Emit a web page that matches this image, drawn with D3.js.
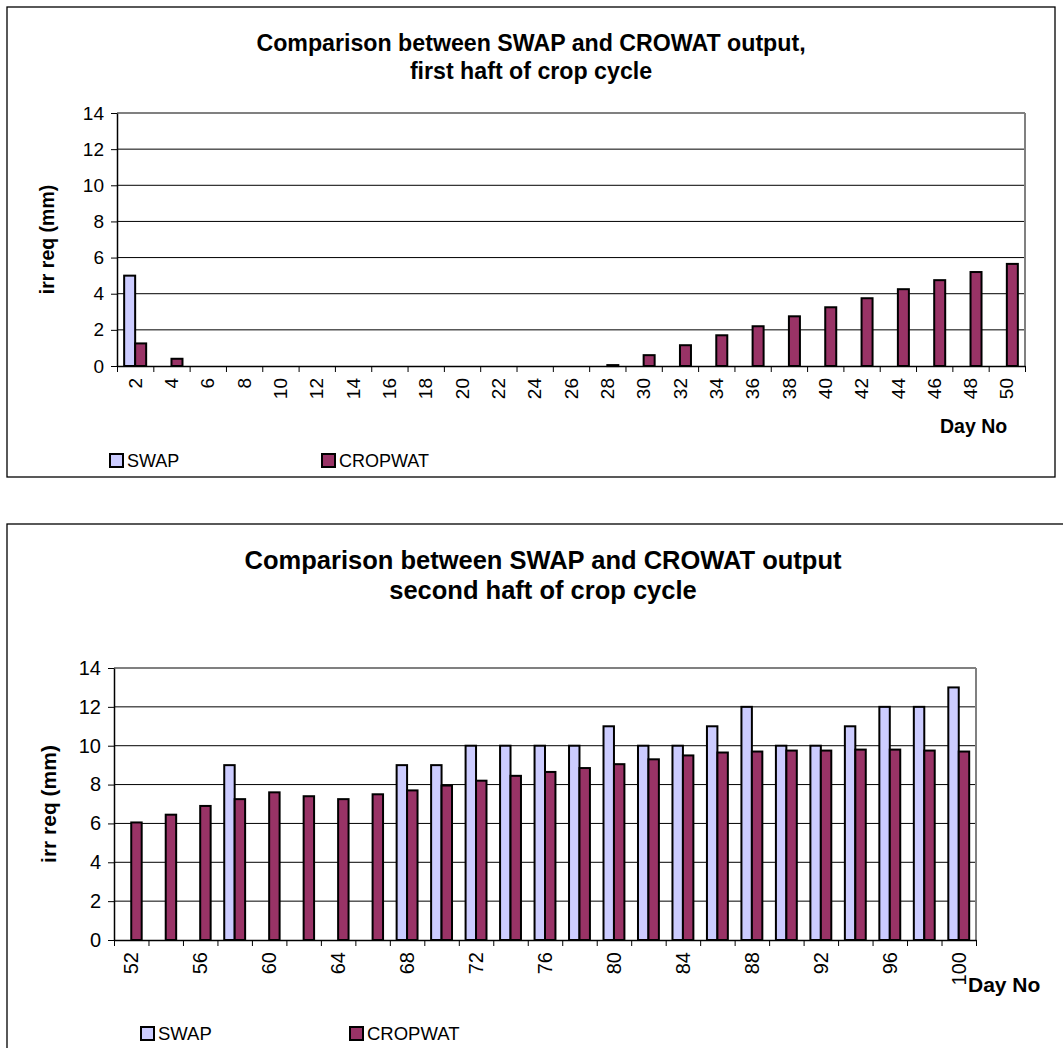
<!DOCTYPE html>
<html>
<head>
<meta charset="utf-8">
<script src="https://cdn.jsdelivr.net/npm/d3@7"></script>
<style>
  body { margin: 0; background: #fff; }
  svg text { font-family: Arial, "Liberation Sans", sans-serif; fill: #000; }
</style>
</head>
<body>
<svg id="chart" width="1063" height="1048"></svg>
<script>
// first half of the crop cycle
const daysA = [2, 4, 6, 8, 10, 12, 14, 16, 18, 20, 22, 24, 26, 28, 30, 32, 34, 36, 38, 40, 42, 44, 46, 48, 50];
const swapA = [5, null, null, null, null, null, null, null, null, null, null, null, null,
  null, null, null, null, null, null, null, null, null, null, null, null];
const cropwatA = [1.25, 0.4, null, null, null, null, null, null, null, null, null, null, null,
  0.05, 0.6, 1.15, 1.7, 2.2, 2.75, 3.25, 3.75, 4.25, 4.75, 5.2, 5.65];
const labelsA = daysA;

// second half of the crop cycle
const daysB = [52, 54, 56, 58, 60, 62, 64, 66, 68, 70, 72, 74, 76, 78, 80, 82, 84, 86, 88, 90, 92, 94, 96, 98, 100];
const swapB = [null, null, null, 9, null, null, null, null, 9, 9, 10, 10, 10, 10, 11, 10, 10, 11, 12, 10, 10, 11, 12, 12, 13];
const cropwatB = [6.05, 6.45, 6.9, 7.25, 7.6, 7.4, 7.25, 7.5, 7.7, 7.95, 8.2, 8.45, 8.65, 8.85, 9.05, 9.3, 9.5, 9.65, 9.7, 9.75, 9.75, 9.8, 9.8, 9.75, 9.7];
const labelsB = [52, 56, 60, 64, 68, 72, 76, 80, 84, 88, 92, 96, 100];

const yTicks = [0, 2, 4, 6, 8, 10, 12, 14];
const seriesNames = ["SWAP", "CROPWAT"];
const colors = { SWAP: "#ccccff", CROPWAT: "#993366" };

const svg = d3.select("#chart");

function drawChart(cfg) {
  const g = svg.append("g");

  // outer frame
  g.append("rect")
    .attr("x", cfg.box[0]).attr("y", cfg.box[1])
    .attr("width", cfg.box[2]).attr("height", cfg.box[3])
    .attr("fill", "#fff").attr("stroke", "#000").attr("stroke-width", 1.3);

  // title, two lines
  g.selectAll(".title")
    .data(cfg.title)
    .enter().append("text")
    .attr("x", cfg.titleX)
    .attr("y", (d, i) => cfg.titleY + i * cfg.titleGap)
    .attr("text-anchor", "middle")
    .style("font-size", cfg.titleSize + "px")
    .style("font-weight", "bold")
    .text(d => d);

  const x = d3.scaleBand().domain(cfg.days).range([cfg.left, cfg.right]);
  const xs = d3.scaleBand().domain(seriesNames).range([0, x.bandwidth()]).paddingOuter(0.65);
  const y = d3.scaleLinear().domain([0, 14]).range([cfg.bottom, cfg.top]);

  // gridlines
  g.selectAll(".grid")
    .data(yTicks.slice(1))
    .enter().append("line")
    .attr("x1", cfg.left).attr("x2", cfg.right)
    .attr("y1", d => y(d)).attr("y2", d => y(d))
    .attr("stroke", d => d === 14 ? "#808080" : "#000")
    .attr("stroke-width", d => d === 14 ? 2 : 1);

  // right border of plot area
  g.append("line")
    .attr("x1", cfg.right).attr("x2", cfg.right)
    .attr("y1", cfg.top).attr("y2", cfg.bottom)
    .attr("stroke", "#808080").attr("stroke-width", 2);

  // bars
  const rows = cfg.days.map((d, i) => ({ day: d, SWAP: cfg.swap[i], CROPWAT: cfg.cropwat[i] }));
  seriesNames.forEach(s => {
    g.selectAll(".bar" + s)
      .data(rows.filter(r => r[s] != null))
      .enter().append("rect")
      .attr("x", r => x(r.day) + xs(s))
      .attr("y", r => y(r[s]))
      .attr("width", xs.bandwidth())
      .attr("height", r => Math.max(y(0) - y(r[s]), 1))
      .attr("fill", colors[s])
      .attr("stroke", "#000")
      .attr("stroke-width", 2);
  });

  // y axis
  const yAxis = g.append("g")
    .attr("transform", `translate(${cfg.left},0)`)
    .call(d3.axisLeft(y).tickValues(yTicks).tickSize(6).tickPadding(7).tickSizeOuter(0));
  yAxis.select(".domain").attr("stroke", "#000").attr("stroke-width", 1.5);
  yAxis.selectAll(".tick line").attr("stroke", "#000");
  yAxis.selectAll(".tick text").style("font-size", cfg.tickSize + "px").style("font-family", "Arial, 'Liberation Sans', sans-serif");

  // x axis: tick marks on category boundaries
  const xb = d3.scaleLinear().domain([0, cfg.days.length]).range([cfg.left, cfg.right]);
  const xTickAxis = g.append("g")
    .attr("transform", `translate(0,${cfg.bottom})`)
    .call(d3.axisBottom(xb).tickValues(d3.range(cfg.days.length + 1)).tickSize(6).tickSizeOuter(0).tickFormat(""));
  xTickAxis.select(".domain").attr("stroke", "#000").attr("stroke-width", 1.5);
  xTickAxis.selectAll(".tick line").attr("stroke", "#000");

  // x labels, rotated
  const xLab = g.append("g")
    .attr("transform", `translate(0,${cfg.bottom})`)
    .call(d3.axisBottom(x).tickValues(cfg.labels).tickSize(0).tickPadding(0));
  xLab.select(".domain").remove();
  xLab.selectAll(".tick text")
    .attr("transform", "rotate(-90)")
    .attr("x", -cfg.labelPad)
    .attr("y", 0)
    .attr("dy", "0.35em")
    .attr("text-anchor", "end")
    .style("font-size", cfg.tickSize + "px")
    .style("font-family", "Arial, 'Liberation Sans', sans-serif");

  // axis titles
  g.append("text")
    .attr("transform", `translate(${cfg.yTitleX},${(cfg.top + cfg.bottom) / 2}) rotate(-90)`)
    .attr("text-anchor", "middle")
    .style("font-size", cfg.axisTitleSize + "px")
    .style("font-weight", "bold")
    .text("irr req (mm)");

  g.append("text")
    .attr("x", cfg.xTitle[0]).attr("y", cfg.xTitle[1])
    .style("font-size", cfg.axisTitleSize + "px")
    .style("font-weight", "bold")
    .text("Day No");

  // legend
  const leg = g.selectAll(".legend")
    .data(seriesNames)
    .enter().append("g")
    .attr("transform", (d, i) => `translate(${cfg.legendX[i]},${cfg.legendY})`);
  leg.append("rect")
    .attr("x", 0).attr("y", -7).attr("width", 13).attr("height", 13)
    .attr("fill", d => colors[d]).attr("stroke", "#000").attr("stroke-width", 2);
  leg.append("text")
    .attr("x", 17).attr("y", 0).attr("dy", "0.35em")
    .style("font-size", cfg.legendSize + "px")
    .text(d => d);
}

drawChart({
  box: [7, 7, 1048, 470],
  title: ["Comparison between SWAP and CROWAT output,", "first haft of crop cycle"],
  titleX: 531, titleY: 51, titleGap: 28, titleSize: 23.2,
  days: daysA, swap: swapA, cropwat: cropwatA, labels: labelsA,
  left: 117, right: 1025, top: 113, bottom: 366,
  labelPad: 12, tickSize: 19, legendSize: 18,
  yTitleX: 54, axisTitleSize: 19.5,
  xTitle: [940, 433],
  legendX: [110, 322], legendY: 461
});

drawChart({
  box: [7, 524, 1070, 540],
  title: ["Comparison between SWAP and CROWAT output", "second haft of crop cycle"],
  titleX: 543, titleY: 569, titleGap: 30, titleSize: 25.5,
  days: daysB, swap: swapB, cropwat: cropwatB, labels: labelsB,
  left: 114, right: 976, top: 668, bottom: 940,
  labelPad: 12, tickSize: 20, legendSize: 18.5,
  yTitleX: 56, axisTitleSize: 21,
  xTitle: [968, 992],
  legendX: [141, 350], legendY: 1034
});
</script>
</body>
</html>
